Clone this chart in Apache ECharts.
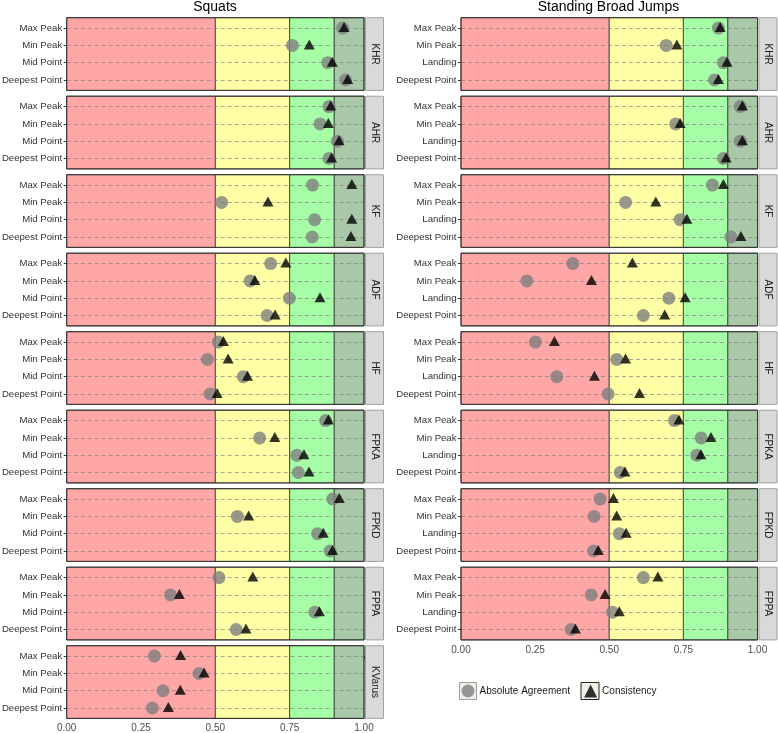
<!DOCTYPE html>
<html><head><meta charset="utf-8">
<script src="https://cdn.jsdelivr.net/npm/echarts@6/dist/echarts.min.js"></script>
<style>html,body{margin:0;padding:0;background:#fff}#c{width:778px;height:733px}</style>
</head><body><div id="c"></div>
<script>
// ---------- data ----------
const squatRows = ['Max Peak', 'Min Peak', 'Mid Point', 'Deepest Point'];
const sbjRows = ['Max Peak', 'Min Peak', 'Landing', 'Deepest Point'];
const squatFacets = ['KHR', 'AHR', 'KF', 'ADF', 'HF', 'FPKA', 'FPKD', 'FPPA', 'KVarus'];
const sbjFacets = ['KHR', 'AHR', 'KF', 'ADF', 'HF', 'FPKA', 'FPKD', 'FPPA'];
const xTicks = [0, 0.25, 0.5, 0.75, 1];
const bandEdges = [0, 0.5, 0.75, 0.9, 1];

// Squats: Absolute Agreement (rows: Max Peak, Min Peak, Mid Point, Deepest Point)
const squatAbs = [
  [0.928, 0.759, 0.878, 0.938],
  [0.882, 0.852, 0.910, 0.882],
  [0.827, 0.521, 0.834, 0.826],
  [0.686, 0.617, 0.749, 0.674],
  [0.510, 0.473, 0.594, 0.482],
  [0.871, 0.649, 0.774, 0.779],
  [0.895, 0.574, 0.844, 0.886],
  [0.512, 0.349, 0.835, 0.570],
  [0.295, 0.445, 0.324, 0.288]
];
// Squats: Consistency
const squatCon = [
  [0.933, 0.816, 0.893, 0.945],
  [0.888, 0.880, 0.916, 0.891],
  [0.959, 0.677, 0.959, 0.956],
  [0.737, 0.633, 0.852, 0.701],
  [0.527, 0.543, 0.608, 0.506],
  [0.880, 0.700, 0.798, 0.815],
  [0.917, 0.612, 0.863, 0.894],
  [0.626, 0.379, 0.850, 0.603],
  [0.383, 0.462, 0.382, 0.342]
];
// Standing Broad Jumps: Absolute Agreement (rows: Max Peak, Min Peak, Landing, Deepest Point)
const sbjAbs = [
  [0.868, 0.692, 0.885, 0.855],
  [0.942, 0.724, 0.942, 0.885],
  [0.848, 0.555, 0.739, 0.910],
  [0.377, 0.222, 0.701, 0.615],
  [0.251, 0.525, 0.323, 0.496],
  [0.720, 0.810, 0.795, 0.537],
  [0.469, 0.449, 0.534, 0.447],
  [0.615, 0.439, 0.511, 0.371]
];
// Standing Broad Jumps: Consistency
const sbjCon = [
  [0.874, 0.728, 0.897, 0.868],
  [0.949, 0.739, 0.949, 0.894],
  [0.885, 0.657, 0.762, 0.944],
  [0.578, 0.440, 0.756, 0.687],
  [0.315, 0.555, 0.450, 0.602],
  [0.735, 0.843, 0.809, 0.553],
  [0.514, 0.525, 0.557, 0.463],
  [0.664, 0.486, 0.534, 0.386]
];

// ---------- layout / style ----------
const FONT = '"Liberation Sans", Arial, sans-serif';
const bandColors = ['#FFA6A6', '#FFFFA6', '#A6FFA6', '#A8C8A8'];
const TOP0 = 17.7, PH = 72.7, STEP = 78.5;
const cols = [
  { title: 'Squats', titleX: 215, x0: 66.7, w: 297.3, facets: squatFacets, rows: squatRows, abs: squatAbs, con: squatCon },
  { title: 'Standing Broad Jumps', titleX: 608.5, x0: 461, w: 296.5, facets: sbjFacets, rows: sbjRows, abs: sbjAbs, con: sbjCon }
];

const grids = [], xAxes = [], yAxes = [], series = [], graphics = [];
cols.forEach(col => {
  graphics.push({ type: 'text', x: col.titleX, y: 7, z: 100,
    style: { text: col.title, font: '14px ' + FONT, fill: '#000', align: 'center', verticalAlign: 'middle', textAlign: 'center', textVerticalAlign: 'middle' } });
  col.facets.forEach((f, i) => {
    const gi = grids.length;
    const top = TOP0 + i * STEP;
    const last = i === col.facets.length - 1;
    const rowIdx = col.rows.map((r, k) => k);
    grids.push({ left: col.x0, top: top, width: col.w, height: PH, show: false, containLabel: false, outerBoundsMode: 'none' });
    xAxes.push({ gridIndex: gi, type: 'value', min: xTicks[0], max: xTicks[xTicks.length - 1], interval: 0.25,
      axisLine: { show: false }, splitLine: { show: false },
      axisTick: { show: last, length: 3, lineStyle: { color: '#333' } },
      axisLabel: { show: last, margin: 5, fontSize: 10, fontFamily: FONT, color: '#4D4D4D', formatter: v => v.toFixed(2) } });
    yAxes.push({ gridIndex: gi, type: 'value', min: -0.6, max: col.rows.length - 0.4, inverse: true,
      axisLine: { show: false }, splitLine: { show: false },
      axisTick: { show: true, length: 3, customValues: rowIdx, lineStyle: { color: '#333' } },
      axisLabel: { margin: 4.5, fontSize: 9.6, fontFamily: FONT, color: '#333', customValues: rowIdx, formatter: v => col.rows[Math.round(v)] } });
    series.push({
      name: 'Absolute Agreement', type: 'scatter', xAxisIndex: gi, yAxisIndex: gi, z: 3,
      symbol: 'circle', symbolSize: 13, itemStyle: { color: '#808080' },
      data: col.abs[i].map((v, r) => [v, r]),
      markArea: { silent: true, z: 1,
        data: bandColors.map((c, b) => [
          { xAxis: bandEdges[b], itemStyle: { color: c, borderColor: '#333', borderWidth: 0.8 } },
          { xAxis: bandEdges[b + 1] }
        ]) },
      markLine: { silent: true, z: 2, symbol: 'none', label: { show: false },
        lineStyle: { type: [4, 3], color: '#808080', width: 0.7 },
        data: rowIdx.map(r => ({ yAxis: r })) }
    });
    series.push({
      name: 'Consistency', type: 'scatter', xAxisIndex: gi, yAxisIndex: gi, z: 4,
      symbol: 'triangle', symbolSize: [11, 10], symbolOffset: [0, -1], itemStyle: { color: '#000' },
      data: col.con[i].map((v, r) => [v, r])
    });
    // panel border
    graphics.push({ type: 'rect', z: 100, silent: true,
      shape: { x: col.x0, y: top, width: col.w, height: PH },
      style: { fill: null, stroke: '#333', lineWidth: 1 } });
    // strip
    const sx = col.x0 + col.w + 1.5;
    graphics.push({ type: 'rect', z: 100, silent: true,
      shape: { x: sx, y: top, width: 18, height: PH },
      style: { fill: '#D9D9D9', stroke: '#A0A0A0', lineWidth: 1 } });
    graphics.push({ type: 'text', z: 101, silent: true, x: sx + 9, y: top + PH / 2, rotation: -Math.PI / 2,
      style: { text: f, font: '10px ' + FONT, fill: '#1A1A1A', align: 'center', verticalAlign: 'middle', textAlign: 'center', textVerticalAlign: 'middle' } });
  });
});
// legend key boxes
graphics.push({ type: 'rect', z: 0, silent: true, shape: { x: 459.5, y: 682.5, width: 17, height: 17 },
  style: { fill: '#F0F0E6', stroke: '#A0A0A0', lineWidth: 1 } });
graphics.push({ type: 'rect', z: 0, silent: true, shape: { x: 581, y: 682.5, width: 18, height: 17 },
  style: { fill: '#F0F0E6', stroke: '#222', lineWidth: 1 } });

const chart = echarts.init(document.getElementById('c'), null, { renderer: 'canvas' });
chart.setOption({
  animation: false,
  backgroundColor: '#fff',
  grid: grids, xAxis: xAxes, yAxis: yAxes, series: series, graphic: graphics,
  legend: { left: 461.5, top: 684.5, padding: 0, itemWidth: 13, itemHeight: 13, itemGap: 14, selectedMode: false,
    data: [{ name: 'Absolute Agreement', icon: 'circle' }, { name: 'Consistency', icon: 'triangle' }],
    textStyle: { fontSize: 10, fontFamily: FONT, color: '#1A1A1A' } }
});
</script></body></html>
